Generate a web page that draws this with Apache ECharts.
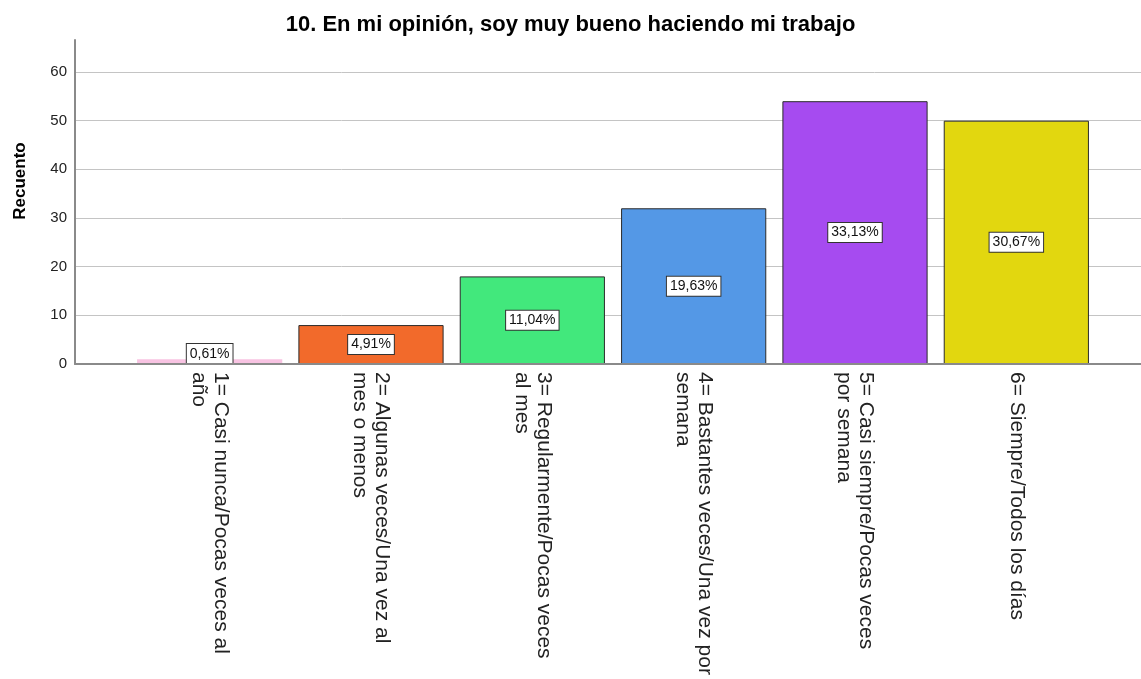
<!DOCTYPE html>
<html>
<head>
<meta charset="utf-8">
<title>10. En mi opinión, soy muy bueno haciendo mi trabajo</title>
<script src="https://cdn.jsdelivr.net/npm/echarts@6/dist/echarts.min.js"></script>
<style>
  html, body { margin: 0; padding: 0; background: #fff; }
  #chart { width: 1141px; height: 679px; }
</style>
</head>
<body>
<div id="chart"></div>
<script>
// Response categories (frequency scale)
const categories = [
  '1= Casi nunca/Pocas veces al año',
  '2= Algunas veces/Una vez al mes o menos',
  '3= Regularmente/Pocas veces al mes',
  '4= Bastantes veces/Una vez por semana',
  '5= Casi siempre/Pocas veces por semana',
  '6= Siempre/Todos los días'
];
// Category tick labels as wrapped on the axis
const tickLabels = [
  '1= Casi nunca/Pocas veces al\naño',
  '2= Algunas veces/Una vez al\nmes o menos',
  '3= Regularmente/Pocas veces\nal mes',
  '4= Bastantes veces/Una vez por\nsemana',
  '5= Casi siempre/Pocas veces\npor semana',
  '6= Siempre/Todos los días'
];
// Count of respondents per category
const counts = [1, 8, 18, 32, 54, 50];
// Count axis range and step
const yMin = 0;
const yMax = 60;
const yStep = 10;

const palette = ['#f8c3e2', '#f26a2b', '#42e87c', '#5498e6', '#a64bf0', '#e2d70f'];
const FONT = "'Liberation Sans', Arial, Helvetica, sans-serif";

const total = counts.reduce((a, b) => a + b, 0);
const pct = v => (v / total * 100).toFixed(2).replace('.', ',') + '%';

const barData = counts.map((v, i) => {
  const item = {
    value: v,
    itemStyle: {
      color: palette[i],
      borderColor: i === 0 ? palette[i] : '#2b2b2b',
      borderWidth: i === 0 ? 0 : 1
    }
  };
  // very short bars carry their label resting on the baseline
  if (v < 4) {
    item.label = { position: 'insideBottom', distance: 1 };
  }
  return item;
});

const chart = echarts.init(document.getElementById('chart'), null, { renderer: 'canvas' });

const option = {
  backgroundColor: '#ffffff',
  animation: false,
  textStyle: { fontFamily: FONT },
  title: {
    text: '10. En mi opinión, soy muy bueno haciendo mi trabajo',
    left: 'center',
    top: 14,
    padding: 0,
    textStyle: { fontFamily: FONT, fontSize: 22, fontWeight: 'bold', color: '#000' }
  },
  graphic: [{
    type: 'text',
    x: 20,
    y: 181,
    rotation: Math.PI / 2,
    style: {
      text: 'Recuento',
      font: 'bold 17px ' + FONT,
      fill: '#000',
      align: 'center',
      verticalAlign: 'middle'
    }
  }],
  grid: [
    { left: 75, right: 0, top: 40, bottom: 315, outerBoundsMode: 'none' },
    { left: 75, right: 0, top: 72, bottom: 315, outerBoundsMode: 'none' },
    { left: 129, right: 44, top: 72, bottom: 315, outerBoundsMode: 'none' }
  ],
  xAxis: [
    {
      gridIndex: 0, type: 'value', min: 0, max: 1, z: 5,
      axisLine: { show: true, onZero: false, lineStyle: { color: '#8a8a8a', width: 2 } },
      axisTick: { show: false }, axisLabel: { show: false }, splitLine: { show: false }
    },
    { gridIndex: 1, type: 'value', min: 0, max: 1, show: false },
    {
      gridIndex: 2, type: 'category', data: categories,
      axisLine: { show: false }, axisTick: { show: false },
      axisLabel: {
        interval: 0,
        rotate: -90,
        margin: 8,
        fontSize: 21,
        lineHeight: 22,
        color: '#222',
        fontFamily: FONT,
        formatter: (v, i) => tickLabels[i]
      }
    }
  ],
  yAxis: [
    {
      gridIndex: 0, type: 'value', min: 0, max: 1, z: 5,
      axisLine: { show: true, onZero: false, lineStyle: { color: '#8a8a8a', width: 2 } },
      axisTick: { show: false }, axisLabel: { show: false }, splitLine: { show: false }
    },
    {
      gridIndex: 1, type: 'value', min: yMin, max: yMax, interval: yStep,
      axisLine: { show: false }, axisTick: { show: false },
      axisLabel: { fontSize: 15, color: '#222', margin: 8, fontFamily: FONT },
      splitLine: { show: true, lineStyle: { color: '#c4c4c4', width: 1 } }
    },
    { gridIndex: 2, type: 'value', min: yMin, max: yMax, interval: yStep, show: false }
  ],
  series: [{
    type: 'bar',
    xAxisIndex: 2,
    yAxisIndex: 2,
    barCategoryGap: '10%',
    data: barData,
    label: {
      show: true,
      position: 'inside',
      formatter: p => pct(p.value),
      fontSize: 14,
      color: '#111',
      fontFamily: FONT,
      backgroundColor: '#ffffff',
      borderColor: '#333',
      borderWidth: 1,
      padding: [3, 3, 2, 3]
    }
  }]
};

chart.setOption(option);
</script>
</body>
</html>
